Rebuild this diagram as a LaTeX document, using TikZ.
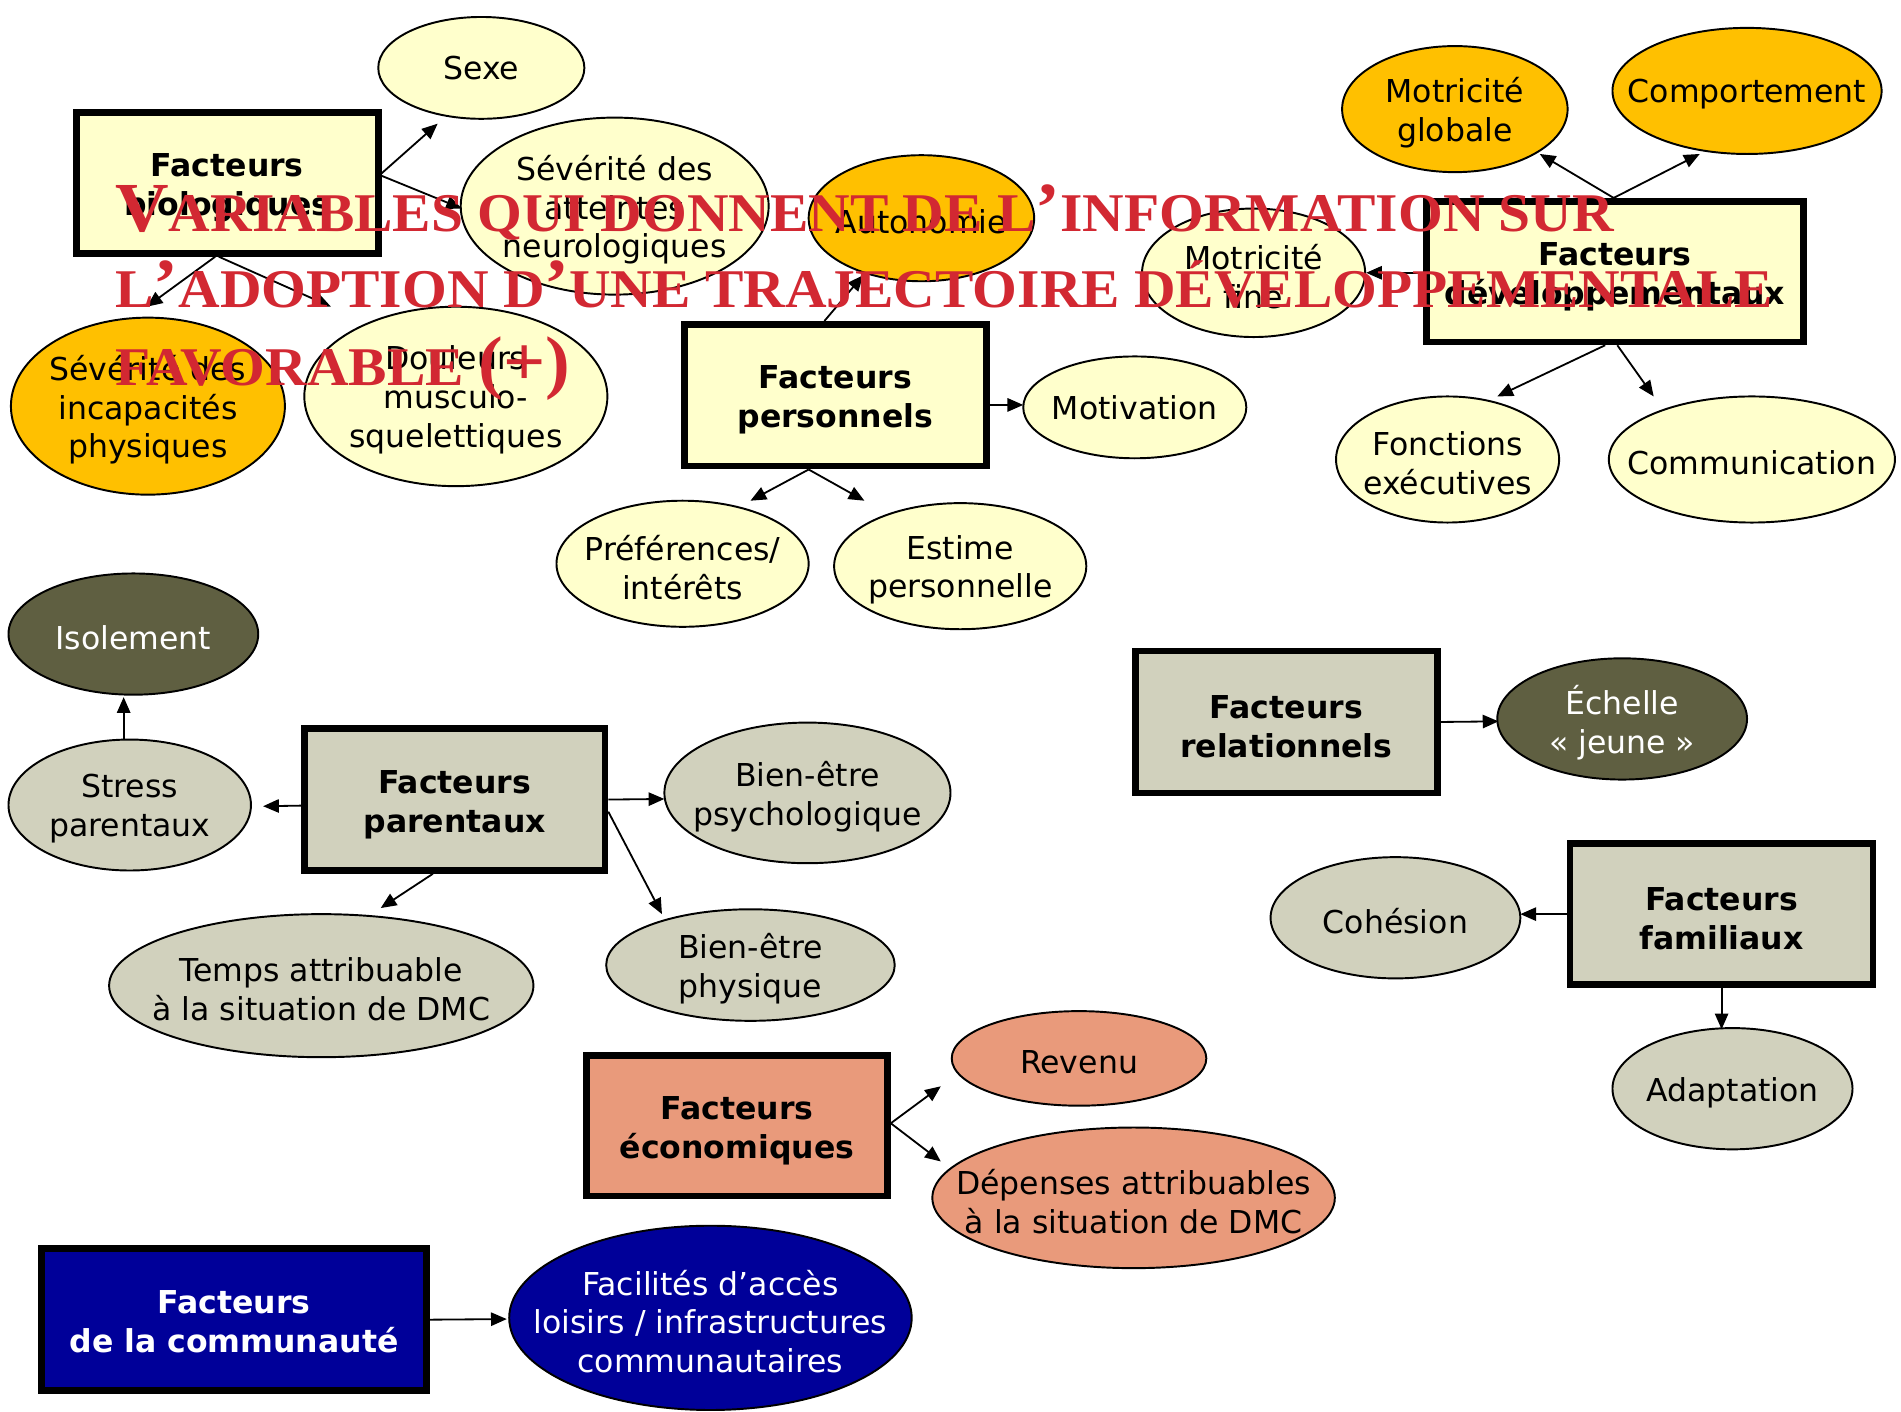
\documentclass[tikz,border=0pt]{standalone}
\usepackage{fontspec}
\setmainfont{DejaVu Sans}
\newfontfamily\titlefont[FakeStretch=1.055]{Liberation Serif}
\usetikzlibrary{arrows.meta,shapes.geometric}
\definecolor{pale}{RGB}{255,255,204}
\definecolor{gold}{RGB}{255,192,0}
\definecolor{khaki}{RGB}{209,209,189}
\definecolor{olive}{RGB}{95,95,65}
\definecolor{salmon}{RGB}{233,154,123}
\definecolor{navy}{RGB}{0,0,153}
\definecolor{titlered}{RGB}{210,40,50}
\newcommand\tbig[1]{{\fontsize{58}{60}\selectfont #1}}
\begin{document}
\begin{tikzpicture}[x=1pt,y=-1pt,
 ell/.style={ellipse,draw=black,line width=1.6pt,inner sep=0pt},
 box/.style={rectangle,draw=black,line width=5.5pt,inner sep=0pt},
 txt/.style={font=\fontsize{26}{32}\selectfont,align=center,inner sep=0pt,yshift=-3pt},
 btxt/.style={font=\fontsize{26}{32}\selectfont\bfseries,align=center,inner sep=0pt,yshift=-4pt},
 arr/.style={line width=1.5pt,-{Triangle[length=13pt,width=11pt]}},
 ttl/.style={anchor=base west,inner sep=0pt,text=titlered,font=\titlefont\bfseries\fontsize{45}{50}\selectfont}]
\useasboundingbox (0,0) rectangle (1568,1164);

% ---- boxes
\node[box,fill=pale,minimum width=249pt,minimum height=116pt,label={[btxt]center:Facteurs\\biologiques}] (bio) at (187.5,151) {};
\node[box,fill=pale,minimum width=249pt,minimum height=117pt,label={[btxt]center:Facteurs\\personnels}] (pers) at (689,326) {};
\node[box,fill=pale,minimum width=311pt,minimum height=116pt,label={[btxt]center:Facteurs\\développementaux}] (dev) at (1332,224) {};
\node[box,fill=khaki,minimum width=248pt,minimum height=117pt,label={[btxt]center:Facteurs\\parentaux}] (par) at (375,659.5) {};
\node[box,fill=khaki,minimum width=249pt,minimum height=117pt,label={[btxt]center:Facteurs\\relationnels}] (rel) at (1061,595.5) {};
\node[box,fill=khaki,minimum width=250pt,minimum height=116pt,label={[btxt]center:Facteurs\\familiaux}] (fam) at (1420,754) {};
\node[box,fill=salmon,minimum width=248pt,minimum height=116pt,label={[btxt]center:Facteurs\\économiques}] (eco) at (608,928.5) {};
\node[box,fill=navy,minimum width=318pt,minimum height=117pt,label={[btxt,text=white,yshift=2pt]center:Facteurs\\de la communauté}] (com) at (193,1088.5) {};

% ---- ellipses
\node[ell,fill=pale,minimum width=170pt,minimum height=84pt,label={[txt,yshift=3pt]center:Sexe}] (sexe) at (397,56) {};
\node[ell,fill=pale,minimum width=254pt,minimum height=146pt,label={[txt]center:Sévérité des\\atteintes\\neurologiques}] (atteintes) at (507,170) {};
\node[ell,fill=gold,minimum width=186pt,minimum height=104pt,label={[txt]center:Autonomie}] (autonomie) at (760,180) {};
\node[ell,fill=gold,minimum width=226pt,minimum height=146pt,label={[txt]center:Sévérité des\\incapacités\\physiques}] (incap) at (122,335) {};
\node[ell,fill=pale,minimum width=250pt,minimum height=148pt,label={[txt]center:Douleurs\\musculo-\\squelettiques}] (douleurs) at (376,327) {};
\node[ell,fill=pale,minimum width=184pt,minimum height=84pt,label={[txt,yshift=3pt]center:Motivation}] (motivation) at (936,336) {};
\node[ell,fill=pale,minimum width=208pt,minimum height=104pt,label={[txt]center:Préférences/\\intérêts}] (pref) at (563,465) {};
\node[ell,fill=pale,minimum width=208pt,minimum height=104pt,label={[txt]center:Estime\\personnelle}] (estime) at (792,467) {};
\node[ell,fill=pale,minimum width=184pt,minimum height=106pt,label={[txt]center:Motricité\\fine}] (mfine) at (1034,225) {};
\node[ell,fill=gold,minimum width=186pt,minimum height=104pt,label={[txt]center:Motricité\\globale}] (mglobale) at (1200,90) {};
\node[ell,fill=gold,minimum width=222pt,minimum height=104pt,label={[txt]center:Comportement}] (comport) at (1441,75) {};
\node[ell,fill=pale,minimum width=184pt,minimum height=104pt,label={[txt]center:Fonctions\\exécutives}] (fonctions) at (1194,379) {};
\node[ell,fill=pale,minimum width=236pt,minimum height=104pt,label={[txt]center:Communication}] (communic) at (1445,379) {};
\node[ell,fill=olive,minimum width=206pt,minimum height=100pt,label={[txt,text=white]center:Isolement}] (isolement) at (110,523) {};
\node[ell,fill=khaki,minimum width=200pt,minimum height=108pt,label={[txt]center:Stress\\parentaux}] (stress) at (107,664) {};
\node[ell,fill=khaki,minimum width=236pt,minimum height=116pt,label={[txt]center:Bien-être\\psychologique}] (bepsy) at (666,654) {};
\node[ell,fill=khaki,minimum width=238pt,minimum height=92pt,label={[txt]center:Bien-être\\physique}] (bephys) at (619,796) {};
\node[ell,fill=khaki,minimum width=350pt,minimum height=118pt,label={[txt]center:Temps attribuable\\à la situation de DMC}] (temps) at (265,813) {};
\node[ell,fill=olive,minimum width=206pt,minimum height=100pt,label={[txt,text=white]center:Échelle\\«~jeune~»}] (echelle) at (1338,593) {};
\node[ell,fill=khaki,minimum width=206pt,minimum height=100pt,label={[txt]center:Cohésion}] (cohesion) at (1151,757) {};
\node[ell,fill=khaki,minimum width=198pt,minimum height=100pt,label={[txt]center:Adaptation}] (adaptation) at (1429,898) {};
\node[ell,fill=salmon,minimum width=210pt,minimum height=78pt,label={[txt]center:Revenu}] (revenu) at (890,873) {};
\node[ell,fill=salmon,minimum width=332pt,minimum height=116pt,label={[txt]center:Dépenses attribuables\\à la situation de DMC}] (depenses) at (935,988) {};
\node[ell,fill=navy,minimum width=332pt,minimum height=152pt,label={[txt,text=white]center:Facilités d’accès\\loisirs / infrastructures\\communautaires}] (facilites) at (586,1087) {};

% ---- arrow tips
\coordinate (tSexe) at (361,102);
\coordinate (tAtt) at (381,172);
\coordinate (tIncap) at (121,253);
\coordinate (tDoul) at (273,253);
\coordinate (tAuto) at (712,227);
\coordinate (tMotiv) at (844,334);
\coordinate (tPref) at (619,413);
\coordinate (tEst) at (713,413);
\coordinate (tMglob) at (1270,127);
\coordinate (tComp) at (1402,127);
\coordinate (tFonc) at (1235,327);
\coordinate (tComm) at (1364,327);
\coordinate (tStress) at (217,665);
\coordinate (tIso) at (102,575);
\coordinate (tPsy) at (548,659);
\coordinate (tPhys) at (546,754);
\coordinate (tTemps) at (314,749);
\coordinate (tEch) at (1236,595);
\coordinate (tCoh) at (1254,754);
\coordinate (tAdapt) at (1420,849);
\coordinate (tRev) at (776,896);
\coordinate (tDep) at (776,958);
\coordinate (tFac) at (418,1088);

% ---- connectors
\draw[arr] ([yshift=8pt]bio.east) -- (tSexe);
\draw[arr] ([yshift=6pt]bio.east) -- (tAtt);
\draw[arr] ([xshift=-10pt]bio.south) -- (tIncap);
\draw[arr] ([xshift=-7pt]bio.south) -- (tDoul);
\draw[arr] ([xshift=-9pt]pers.north) -- (tAuto);
\draw[arr] ([yshift=-8pt]pers.east) -- (tMotiv);
\draw[arr] ([xshift=-22pt]pers.south) -- (tPref);
\draw[arr] ([xshift=-22pt]pers.south) -- (tEst);
\draw[arr] ([xshift=-1pt]dev.north) -- (tMglob);
\draw[arr] ([xshift=-1pt]dev.north) -- (tComp);
\draw[arr] ([yshift=-1pt]dev.west) -- (mfine.east);
\draw[arr] ([xshift=-8pt]dev.south) -- (tFonc);
\draw[arr] ([xshift=2pt]dev.south) -- (tComm);
\draw[arr] ([yshift=-5pt]par.west) -- (tStress);
\draw[arr] ([xshift=-5pt]stress.north) -- (tIso);
\draw[arr] (par.east) -- (tPsy);
\draw[arr] ([yshift=-10pt]par.east) -- (tPhys);
\draw[arr] ([xshift=-18pt]par.south) -- (tTemps);
\draw[arr] (rel.east) -- (tEch);
\draw[arr] (fam.west) -- (tCoh);
\draw[arr] (fam.south) -- (tAdapt);
\draw[arr] ([yshift=2pt]eco.east) -- (tRev);
\draw[arr] ([yshift=2pt]eco.east) -- (tDep);
\draw[arr] (com.east) -- (tFac);

% ---- title overlay
\node[ttl] (title1) at (95,191) {\tbig{V}ARIABLES QUI DONNENT DE L\tbig{’}INFORMATION SUR};
\node[ttl] (title2) at (95,254) {L\tbig{’}ADOPTION D\tbig{’}UNE TRAJECTOIRE DÉVELOPPEMENTALE};
\node[ttl] (title3) at (95,318) {FAVORABLE \tbig{(+)}};
\end{tikzpicture}
\end{document}
